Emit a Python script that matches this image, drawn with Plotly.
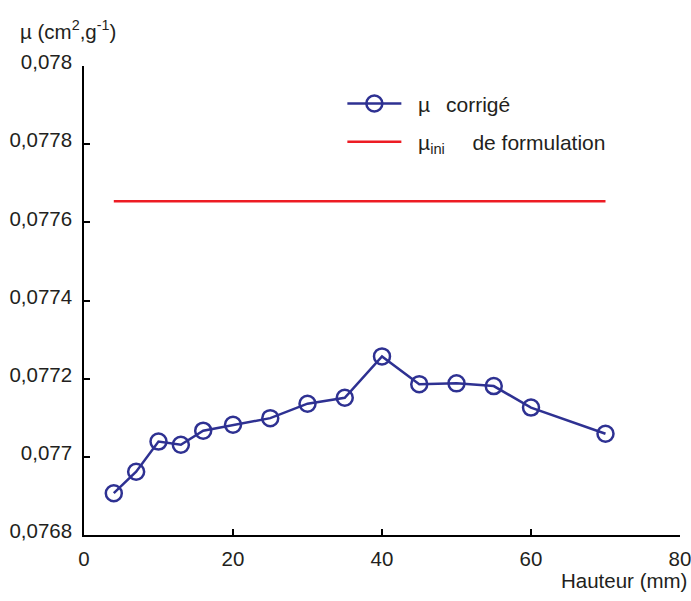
import plotly.graph_objects as go

# Data
hauteur = [4, 7, 10, 13, 16, 20, 25, 30, 35, 40, 45, 50, 55, 60, 70]
mu_corrige = [0.076907, 0.076962, 0.077039, 0.077031, 0.077067, 0.077082, 0.077099,
              0.077136, 0.077151, 0.077257, 0.077186, 0.077188, 0.077181, 0.077126, 0.077059]
mu_ini_x = [4, 70]
mu_ini_y = [0.077654, 0.077654]

y_tickvals = [0.0768, 0.077, 0.0772, 0.0774, 0.0776, 0.0778, 0.078]
y_ticktext = ["0,0768", "0,077", "0,0772", "0,0774", "0,0776", "0,0778", "0,078"]
x_tickvals = [0, 20, 40, 60, 80]
x_ticktext = ["0", "20", "40", "60", "80"]

BLUE = "#2E3192"
RED = "#ED1C24"
TXT = "#231F20"
FONT = "Liberation Sans, Arial, sans-serif"
FS = 20.5
FSL = 21
NB = "\u00a0"
TH = "\u2009"

fig = go.Figure()
fig.add_trace(go.Scatter(
    x=hauteur, y=mu_corrige, mode="lines+markers",
    name=NB * 2 + "µ" + NB * 2 + TH + "corrigé", legendgroup="a",
    line=dict(color=BLUE, width=2.5),
    marker=dict(symbol="circle-open", size=16, color=BLUE, line=dict(width=2.5, color=BLUE)),
))
fig.add_trace(go.Scatter(
    x=mu_ini_x, y=mu_ini_y, mode="lines",
    name=NB * 2 + "µ<sub>ini</sub>" + NB * 4 + TH + "de formulation", legendgroup="b",
    line=dict(color=RED, width=2.5),
))

fig.update_layout(
    width=691, height=601,
    margin=dict(l=84, r=11, t=66, b=66),
    paper_bgcolor="white", plot_bgcolor="white",
    font=dict(family=FONT, size=FS, color=TXT),
    showlegend=True,
    legend=dict(x=0.4335, y=0.963, xanchor="left", yanchor="top",
                bgcolor="rgba(0,0,0,0)", itemwidth=54, tracegroupgap=8,
                traceorder="grouped", font=dict(family=FONT, size=FSL, color=TXT)),
    xaxis=dict(range=[0, 80], tickvals=x_tickvals, ticktext=x_ticktext,
               showline=True, linecolor="black", linewidth=1.5, mirror=False,
               ticks="inside", ticklen=6, tickwidth=1.5, tickcolor="black",
               showgrid=False, zeroline=False, automargin=False, ticklabelstandoff=5,
               ticklabeloverflow="allow"),
    yaxis=dict(range=[0.0768, 0.078], tickvals=y_tickvals, ticktext=y_ticktext,
               showline=True, linecolor="black", linewidth=1.5, mirror=False,
               ticks="inside", ticklen=6, tickwidth=1.5, tickcolor="black",
               showgrid=False, zeroline=False, automargin=False,
               ticklabelshift=-4, ticklabelstandoff=6, ticklabeloverflow="allow"),
    annotations=[
        dict(text="µ (cm<sup>2</sup>,g<sup>-1</sup>)", xref="paper", yref="paper",
             x=-0.111, y=1.0, xanchor="left", yanchor="bottom", yshift=21,
             showarrow=False, font=dict(family=FONT, size=FS, color=TXT)),
        dict(text="Hauteur (mm)", xref="paper", yref="paper",
             x=1.0, y=0, xanchor="right", yanchor="top", xshift=9, yshift=-32,
             showarrow=False, font=dict(family=FONT, size=FS, color=TXT)),
    ],
)

fig.write_html(
    "out.html",
    config={"displayModeBar": False},
    post_script="document.body.style.margin='0';document.body.style.overflow='hidden';",
)
